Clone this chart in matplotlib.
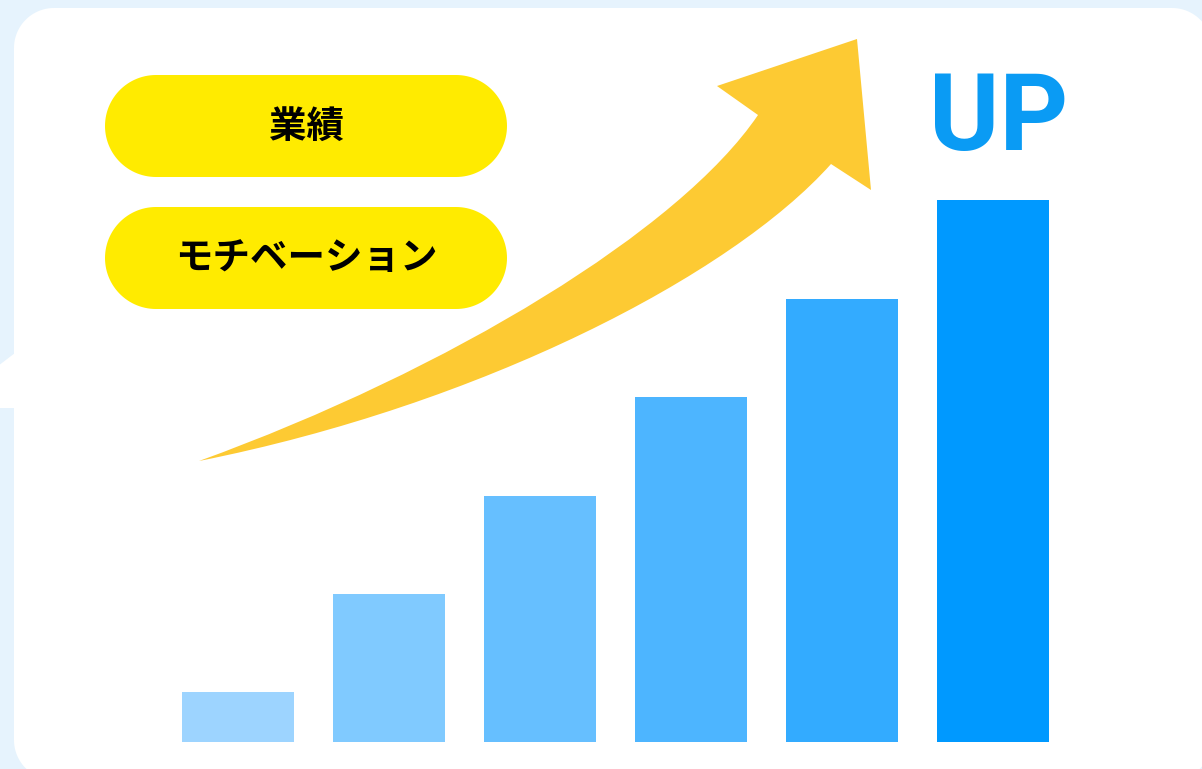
import matplotlib
matplotlib.use("Agg")
import numpy as np
import matplotlib.pyplot as plt
from matplotlib.patches import PathPatch, Polygon
from matplotlib.path import Path

plt.rcParams['font.family'] = ['Noto Sans CJK JP', 'DejaVu Sans']

# ---- data ----
categories = ["1", "2", "3", "4", "5", "6"]
values = [1, 3, 5, 7, 9, 11]
bar_colors = ["#9DD4FF", "#80CAFF", "#66BFFF", "#4DB5FF", "#33ABFF", "#0099FF"]
pill_labels = ["業績", "モチベーション"]
up_text = "UP"

W, H = 1202, 769
fig = plt.figure(figsize=(W / 100, H / 100), dpi=100)
fig.patch.set_facecolor("#E6F3FD")

ax = fig.add_axes([0, 0, 1, 1])
ax.set_xlim(0, W)
ax.set_ylim(H, 0)
ax.axis("off")


def rounded_rect(x0, y0, w, h, r, n=30):
    pts = []
    corners = [(x0 + w - r, y0 + r, -90, 0), (x0 + w - r, y0 + h - r, 0, 90),
               (x0 + r, y0 + h - r, 90, 180), (x0 + r, y0 + r, 180, 270)]
    for cx, cy, a0, a1 in corners:
        t = np.radians(np.linspace(a0, a1, n))
        pts.extend(zip(cx + r * np.cos(t), cy + r * np.sin(t)))
    return pts


# white rounded panel
ax.add_patch(Polygon(rounded_rect(14, 8, 1212 - 14, 780 - 8, 40),
                     closed=True, facecolor="white", edgecolor="none", zorder=1))
# speech-bubble pointer on left
ax.add_patch(Polygon([(15, 353), (-2, 366), (-2, 408), (15, 408)],
                     closed=True, facecolor="white", edgecolor="none", zorder=1))

# pills
pill_tops = [75, 207]
for top, lab in zip(pill_tops, pill_labels):
    ax.add_patch(Polygon(rounded_rect(105, top, 402, 102, 51), closed=True,
                         facecolor="#FFEB00", edgecolor="none", zorder=2))
    ax.text(306, top + 51, lab, ha="center", va="center", fontsize=27,
            fontweight="bold", color="#000000", zorder=3)

# curved arrow
verts = [(199, 461), (450, 370), (680, 230), (758, 115),
         (717, 86), (857, 39), (871, 190), (831, 164),
         (731, 276), (480, 405), (199, 461), (199, 461)]
codes = [Path.MOVETO, Path.CURVE4, Path.CURVE4, Path.CURVE4,
         Path.LINETO, Path.LINETO, Path.LINETO, Path.LINETO,
         Path.CURVE4, Path.CURVE4, Path.CURVE4, Path.CLOSEPOLY]
ax.add_patch(PathPatch(Path(verts, codes), facecolor="#FDCA33",
                       edgecolor="none", zorder=2))

# UP text
ax.text(999, 150, up_text, ha="center", va="baseline", fontsize=77,
        fontweight="bold", family=["Roboto", "DejaVu Sans"],
        color="#0A9BF4", zorder=3)

# bars
bottom_px = 741.5
unit_px = 49.2
bax = fig.add_axes([162.5 / W, (H - bottom_px) / H, 906 / W, 12 * unit_px / H])
bax.set_xlim(-0.5, 5.5)
bax.set_ylim(0, 12)
bax.patch.set_alpha(0)
bax.axis("off")
bax.bar(range(len(categories)), values, width=0.742, color=bar_colors,
        edgecolor="none")

fig.savefig("out.png", dpi=100, facecolor=fig.get_facecolor())
